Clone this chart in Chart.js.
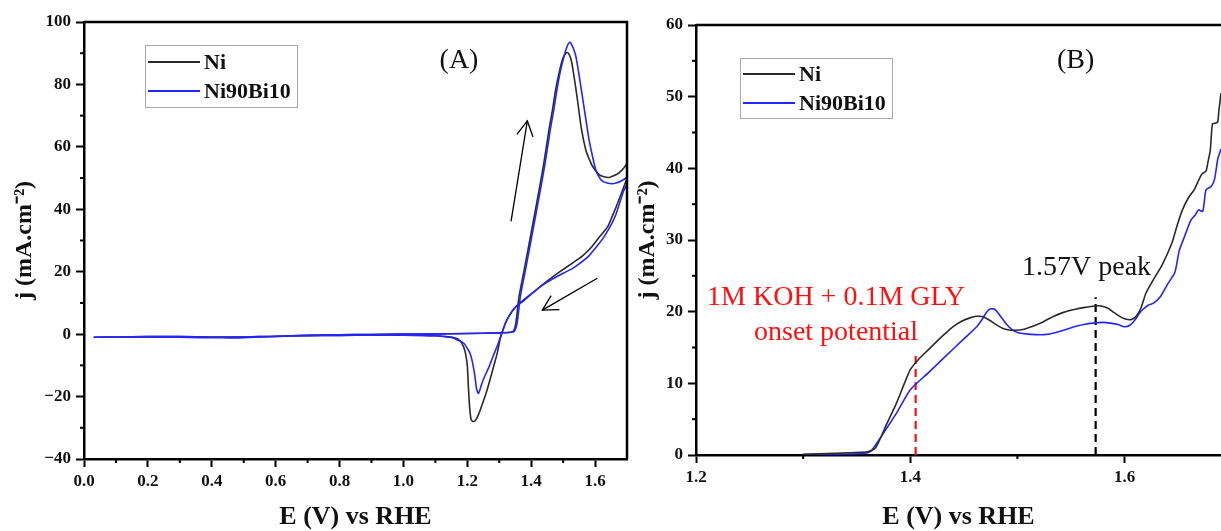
<!DOCTYPE html>
<html>
<head>
<meta charset="utf-8">
<script src="https://cdn.jsdelivr.net/npm/chart.js@4.4.0/dist/chart.umd.min.js"></script>
<style>
  html, body { margin: 0; padding: 0; background: #fff; }
  #cvChart { position: absolute; left: 0; top: 0; }
  #lsvChart { position: absolute; left: 630px; top: 0; }
</style>
</head>
<body>
<canvas id="cvChart" width="630" height="531"></canvas>
<canvas id="lsvChart" width="591" height="531"></canvas>
<script>
// Series names
const seriesNames = ['Ni', 'Ni90Bi10'];

// (A) cyclic voltammograms, E in V vs RHE, j in mA/cm2 (forward then reverse scan)
const cvNiFwdE = [0.03, 0.1, 0.2, 0.3, 0.4, 0.45, 0.5, 0.6, 0.7, 0.8, 0.9, 1.0, 1.1, 1.2, 1.3, 1.335, 1.345, 1.352, 1.362, 1.378, 1.394, 1.41, 1.425, 1.44, 1.456, 1.467, 1.477, 1.488, 1.498, 1.505, 1.511, 1.518, 1.526, 1.535, 1.545, 1.557, 1.571, 1.582, 1.592, 1.6125, 1.628, 1.644, 1.66, 1.675, 1.69, 1.705, 1.72];
const cvNiFwdJ = [-1.0, -0.9, -0.8, -0.8, -0.9, -1.0, -1.0, -0.7, -0.4, -0.2, -0.1, 0.0, 0.1, 0.2, 0.4, 0.6, 1.0, 3.5, 12, 20.5, 29.2, 38, 46.3, 55, 65.6, 72, 78.5, 84, 88, 89.6, 90.2, 89.8, 87.5, 82, 75, 66, 59, 56, 53.8, 51.1, 50.4, 50.2, 50.8, 51.7, 53.2, 55.5, 58];
const cvNiRevE = [1.71, 1.70, 1.693, 1.679, 1.665, 1.654, 1.64, 1.625, 1.6125, 1.59, 1.56, 1.528, 1.49, 1.455, 1.43, 1.404, 1.38, 1.352, 1.335, 1.322, 1.312, 1.303, 1.294, 1.282, 1.27, 1.258, 1.245, 1.235, 1.227, 1.219, 1.212, 1.207, 1.203, 1.2, 1.194, 1.188, 1.178, 1.16, 1.13, 1.1, 1.0, 0.9, 0.8, 0.7, 0.6, 0.5, 0.4, 0.3, 0.2, 0.1, 0.03];
const cvNiRevJ = [52.5, 50, 48, 44.2, 40.5, 37.8, 34.5, 32.5, 31, 28, 25, 22.7, 20, 17.4, 15.4, 13.1, 11, 8.8, 6.5, 4.2, 1.5, -1.5, -6, -10.5, -15, -19.2, -23, -25.8, -27.4, -28, -27.4, -23, -16, -10, -6, -4, -2.2, -1.2, -0.8, -0.5, -0.3, -0.3, -0.4, -0.5, -0.7, -0.9, -1.0, -1.0, -0.9, -0.9, -1.0];
const cvBiFwdE = [0.03, 0.1, 0.2, 0.3, 0.4, 0.45, 0.5, 0.6, 0.7, 0.8, 0.9, 1.0, 1.1, 1.2, 1.3, 1.338, 1.348, 1.356, 1.366, 1.382, 1.398, 1.414, 1.429, 1.444, 1.46, 1.471, 1.481, 1.492, 1.503, 1.51, 1.516, 1.522, 1.528, 1.534, 1.54, 1.55, 1.56, 1.571, 1.581, 1.592, 1.602, 1.613, 1.623, 1.638, 1.654, 1.668, 1.68, 1.696, 1.71, 1.72];
const cvBiFwdJ = [-1.0, -0.9, -0.8, -0.8, -1.0, -1.2, -1.1, -0.7, -0.4, -0.2, -0.1, 0.0, 0.1, 0.2, 0.4, 0.6, 1.0, 3.5, 12, 20.5, 29.2, 38, 46.3, 55, 65.6, 72, 78.5, 84.5, 89, 91.5, 93, 93.5, 92.5, 91, 89, 83, 76.3, 69, 62.4, 57, 52.7, 50.3, 49, 48.4, 48.2, 48.5, 49, 50, 51.5, 53];
const cvBiRevE = [1.71, 1.70, 1.69, 1.68, 1.664, 1.65, 1.63, 1.6125, 1.58, 1.55, 1.529, 1.5, 1.456, 1.43, 1.404, 1.38, 1.355, 1.34, 1.324, 1.314, 1.305, 1.295, 1.281, 1.268, 1.25, 1.242, 1.235, 1.229, 1.224, 1.219, 1.214, 1.208, 1.202, 1.19, 1.172, 1.15, 1.1, 1.0, 0.9, 0.8, 0.7, 0.6, 0.5, 0.4, 0.3, 0.2, 0.1, 0.03];
const cvBiRevJ = [50, 48, 46, 43, 38, 35, 31.5, 29, 25, 22.5, 21, 19.5, 17, 15.3, 13.2, 11.3, 9, 7.3, 4.5, 2.0, -0.5, -3.5, -7, -10.5, -14.6, -17, -19, -17.5, -13.5, -10.5, -8, -6, -4.9, -3, -2, -1.0, -0.5, -0.3, -0.3, -0.4, -0.5, -0.7, -0.9, -1.1, -1.0, -0.9, -0.9, -1.0];

// (B) linear sweeps
const lsvNiE = [1.30, 1.33, 1.36, 1.367, 1.372, 1.377, 1.387, 1.4, 1.408, 1.417, 1.425, 1.433, 1.44, 1.447, 1.455, 1.462, 1.468, 1.474, 1.48, 1.486, 1.492, 1.497, 1.505, 1.513, 1.523, 1.533, 1.543, 1.553, 1.563, 1.572, 1.578, 1.584, 1.59, 1.597, 1.603, 1.607, 1.611, 1.615, 1.62, 1.627, 1.635, 1.644, 1.649, 1.654, 1.66, 1.665, 1.672, 1.676, 1.678, 1.68, 1.682, 1.685, 1.687, 1.688, 1.69];
const lsvNiJ = [0.1, 0.25, 0.45, 0.9, 2.3, 4.0, 7.2, 11.9, 13.4, 14.7, 15.9, 17.0, 17.9, 18.6, 19.1, 19.35, 19.3, 18.8, 18.2, 17.7, 17.45, 17.4, 17.5, 17.9, 18.5, 19.3, 19.9, 20.3, 20.6, 20.8, 20.8, 20.5, 19.9, 19.2, 18.9, 18.95, 19.4, 20.4, 22.6, 24.5, 26.5, 29.5, 32, 34.2, 36, 37, 39.2, 39.6, 41, 42.5, 46.2, 46.3, 46.5, 48, 50.5];
const lsvBiE = [1.30, 1.33, 1.357, 1.363, 1.368, 1.373, 1.387, 1.4, 1.417, 1.433, 1.45, 1.462, 1.467, 1.471, 1.475, 1.479, 1.482, 1.486, 1.49, 1.495, 1.5, 1.508, 1.517, 1.525, 1.533, 1.543, 1.553, 1.562, 1.57, 1.58, 1.587, 1.594, 1.6, 1.605, 1.61, 1.614, 1.617, 1.622, 1.627, 1.633, 1.64, 1.647, 1.651, 1.656, 1.662, 1.666, 1.669, 1.673, 1.676, 1.681, 1.684, 1.687, 1.69];
const lsvBiJ = [0.05, 0.12, 0.2, 0.5, 1.5, 2.6, 5.8, 9.1, 11.5, 13.8, 16.2, 17.9, 18.9, 19.9, 20.4, 20.3, 19.8, 19.0, 18.2, 17.5, 17.1, 16.9, 16.8, 16.8, 17.0, 17.4, 17.9, 18.2, 18.4, 18.5, 18.4, 18.2, 17.9, 18.1, 18.9, 19.8, 20.3, 20.9, 21.2, 22.0, 23.8, 25.5, 28.5, 30.5, 32.8, 33.5, 34.2, 34.0, 37, 37.5, 38.5, 41.3, 42.7];

// marker lines in (B)
const onsetLine = [1.405, 0, 14.2];   // E, j from, j to
const peakLine = [1.573, 0, 22];

// scan direction arrows in (A): E0, j0 -> E1, j1
const arrowAnodic = [1.337, 36.1, 1.388, 68.3];
const arrowCathodic = [1.607, 17.9, 1.435, 7.7];

// ticks
const cvXTicks = [0, 0.2, 0.4, 0.6, 0.8, 1.0, 1.2, 1.4, 1.6];
const cvXMinor = [0.1, 0.3, 0.5, 0.7, 0.9, 1.1, 1.3, 1.5];
const cvYTicks = [-40, -20, 0, 20, 40, 60, 80, 100];
const cvYMinor = [-30, -10, 10, 30, 50, 70, 90];
const lsvXTicks = [1.2, 1.4, 1.6];
const lsvXMinor = [1.3, 1.5];
const lsvYTicks = [0, 10, 20, 30, 40, 50, 60];
const lsvYMinor = [5, 15, 25, 35, 45, 55];

const serif = "'Liberation Serif', 'Times New Roman', serif";
const niColor = '#2a2a2a';
const biColor = '#2424ff';

const toPts = (xs, ys) => xs.map((x, i) => ({ x: x, y: ys[i] }));

// draws frame, minor ticks, arrows, text labels and the boxed legend
const panelDecor = {
    id: 'panelDecor',
    afterDraw(chart, args, opts) {
        const ctx = chart.ctx;
        const a = chart.chartArea;
        const x = chart.scales.x, y = chart.scales.y;
        ctx.save();

        ctx.strokeStyle = '#000';
        ctx.lineWidth = 2.5;
        ctx.beginPath();
        ctx.moveTo(a.left, a.top);
        ctx.lineTo(a.right, a.top);
        if (opts.rightBorder) ctx.lineTo(a.right, a.bottom);
        ctx.stroke();

        ctx.lineWidth = 2;
        opts.minorX.forEach(v => {
            const px = x.getPixelForValue(v);
            ctx.beginPath(); ctx.moveTo(px, a.bottom); ctx.lineTo(px, a.bottom + 4); ctx.stroke();
        });
        opts.minorY.forEach(v => {
            const py = y.getPixelForValue(v);
            ctx.beginPath(); ctx.moveTo(a.left, py); ctx.lineTo(a.left - 4, py); ctx.stroke();
        });

        (opts.arrows || []).forEach(ar => {
            const x0 = x.getPixelForValue(ar[0]), y0 = y.getPixelForValue(ar[1]);
            const x1 = x.getPixelForValue(ar[2]), y1 = y.getPixelForValue(ar[3]);
            const ang = Math.atan2(y0 - y1, x0 - x1);
            ctx.lineWidth = 1.3;
            ctx.beginPath(); ctx.moveTo(x0, y0); ctx.lineTo(x1, y1); ctx.stroke();
            ctx.beginPath();
            ctx.moveTo(x1 + 17 * Math.cos(ang + 0.5), y1 + 17 * Math.sin(ang + 0.5));
            ctx.lineTo(x1, y1);
            ctx.lineTo(x1 + 17 * Math.cos(ang - 0.5), y1 + 17 * Math.sin(ang - 0.5));
            ctx.stroke();
        });

        (opts.texts || []).forEach(t => {
            ctx.fillStyle = t.color;
            ctx.font = t.size + 'px ' + serif;
            ctx.textAlign = 'center';
            ctx.textBaseline = t.baseline || 'alphabetic';
            ctx.fillText(t.text, x.getPixelForValue(t.x), y.getPixelForValue(t.y));
        });

        const lg = opts.legend;
        const bx = a.left + lg.dx, by = a.top + lg.dy;
        ctx.strokeStyle = '#a8a8a8';
        ctx.lineWidth = 1;
        ctx.strokeRect(bx + 0.5, by + 0.5, lg.w, lg.h);
        ctx.font = 'bold 22px ' + serif;
        ctx.textAlign = 'left';
        ctx.textBaseline = 'middle';
        chart.data.datasets.filter(d => d.inLegend).sort((p, q) => p.legendPos - q.legendPos).forEach((d, i) => {
            const ly = by + lg.firstRow + i * lg.rowH;
            ctx.strokeStyle = d.borderColor;
            ctx.lineWidth = d.borderWidth + 0.4;
            ctx.beginPath(); ctx.moveTo(bx + 3, ly); ctx.lineTo(bx + 55, ly); ctx.stroke();
            ctx.fillStyle = '#111';
            ctx.fillText(d.label, bx + 59, ly + 1);
        });
        ctx.restore();
    }
};

function axisX(ticksArr, min, max, titlePad) {
    return {
        type: 'linear', min: min, max: max,
        afterBuildTicks: s => { s.ticks = ticksArr.map(v => ({ value: v })); },
        afterFit: s => { s.height = titlePad.h; },
        ticks: { color: '#111', maxRotation: 0, padding: 4, font: { family: serif, size: 17, weight: 'bold' }, callback: v => Number(v).toFixed(1) },
        grid: { drawOnChartArea: false, tickLength: 8, tickWidth: 2, tickColor: '#000' },
        border: { color: '#000', width: 2.5 },
        title: { display: true, text: 'E (V) vs RHE', color: '#111', font: { family: serif, size: 26, weight: 'bold', lineHeight: 1 }, padding: { top: 0, bottom: 1 } }
    };
}

function axisY(ticksArr, min, max, width, titlePad) {
    return {
        type: 'linear', min: min, max: max,
        afterBuildTicks: s => { s.ticks = ticksArr.map(v => ({ value: v })); },
        afterFit: s => { s.width = width; },
        ticks: { color: '#111', padding: 5, font: { family: serif, size: 17, weight: 'bold' }, callback: v => (v < 0 ? '\u2212' + Math.abs(v) : String(v)) },
        grid: { drawOnChartArea: false, tickLength: 8, tickWidth: 2, tickColor: '#000' },
        border: { color: '#000', width: 2.5 },
        title: { display: true, text: 'j (mA.cm\u207B\u00B2)', color: '#111', font: { family: serif, size: 24, weight: 'bold', lineHeight: 1 }, padding: { top: titlePad, bottom: 0 } }
    };
}

const lineStyle = { showLine: true, pointRadius: 0, fill: false, tension: 0.25 };

new Chart(document.getElementById('cvChart'), {
    type: 'scatter',
    data: {
        datasets: [
            Object.assign({ label: seriesNames[0], inLegend: true, legendPos: 0, order: 1, borderColor: niColor, borderWidth: 1.6,
                data: toPts(cvNiFwdE.concat(cvNiRevE), cvNiFwdJ.concat(cvNiRevJ)) }, lineStyle),
            Object.assign({ label: seriesNames[1], inLegend: true, legendPos: 1, order: 0, borderColor: biColor, borderWidth: 1.6,
                data: toPts(cvBiFwdE.concat(cvBiRevE), cvBiFwdJ.concat(cvBiRevJ)) }, lineStyle)
        ]
    },
    options: {
        responsive: false,
        animation: false,
        events: [],
        layout: { padding: { left: 0, top: 22, right: 3, bottom: 0 } },
        scales: {
            x: axisX(cvXTicks, 0, 1.7, { h: 72 }),
            y: axisY(cvYTicks, -40, 100, 84, 13)
        },
        plugins: {
            legend: { display: false },
            tooltip: { enabled: false },
            panelDecor: {
                rightBorder: true,
                minorX: cvXMinor, minorY: cvYMinor,
                arrows: [arrowAnodic, arrowCathodic],
                texts: [{ text: '(A)', x: 1.174, y: 87.7, color: '#111', size: 28, baseline: 'middle' }],
                legend: { dx: 61, dy: 23, w: 152, h: 62, firstRow: 17, rowH: 29 }
            }
        }
    },
    plugins: [panelDecor]
});

new Chart(document.getElementById('lsvChart'), {
    type: 'scatter',
    data: {
        datasets: [
            Object.assign({ label: seriesNames[0], inLegend: true, legendPos: 0, order: 0, borderColor: niColor, borderWidth: 1.6,
                data: toPts(lsvNiE, lsvNiJ) }, lineStyle, { tension: 0.2 }),
            Object.assign({ label: seriesNames[1], inLegend: true, legendPos: 1, order: 1, borderColor: biColor, borderWidth: 1.6,
                data: toPts(lsvBiE, lsvBiJ) }, lineStyle, { tension: 0.2 }),
            { label: 'onset', showLine: true, pointRadius: 0, borderColor: '#ff1010', borderWidth: 2.2, borderDash: [8, 5], order: 2,
                data: [{ x: onsetLine[0], y: onsetLine[1] }, { x: onsetLine[0], y: onsetLine[2] }] },
            { label: 'peak', showLine: true, pointRadius: 0, borderColor: '#000', borderWidth: 2.2, borderDash: [8, 5], order: 2,
                data: [{ x: peakLine[0], y: peakLine[1] }, { x: peakLine[0], y: peakLine[2] }] }
        ]
    },
    options: {
        responsive: false,
        animation: false,
        events: [],
        layout: { padding: { left: 0, top: 25, right: 0, bottom: 0 } },
        scales: {
            x: axisX(lsvXTicks, 1.2, 1.69, { h: 76 }),
            y: axisY(lsvYTicks, 0, 60, 66, 6)
        },
        plugins: {
            legend: { display: false },
            tooltip: { enabled: false },
            panelDecor: {
                rightBorder: false,
                minorX: lsvXMinor, minorY: lsvYMinor,
                texts: [
                    { text: '(B)', x: 1.5543, y: 55.0, color: '#111', size: 28, baseline: 'middle' },
                    { text: '1M KOH + 0.1M GLY', x: 1.3307, y: 20.93, color: '#ff1010', size: 28 },
                    { text: 'onset potential', x: 1.3307, y: 16.05, color: '#ff1010', size: 28 },
                    { text: '1.57V peak', x: 1.5645, y: 25.1, color: '#111', size: 28 }
                ],
                legend: { dx: 44, dy: 33, w: 152, h: 60, firstRow: 16, rowH: 29 }
            }
        }
    },
    plugins: [panelDecor]
});
</script>
</body>
</html>
